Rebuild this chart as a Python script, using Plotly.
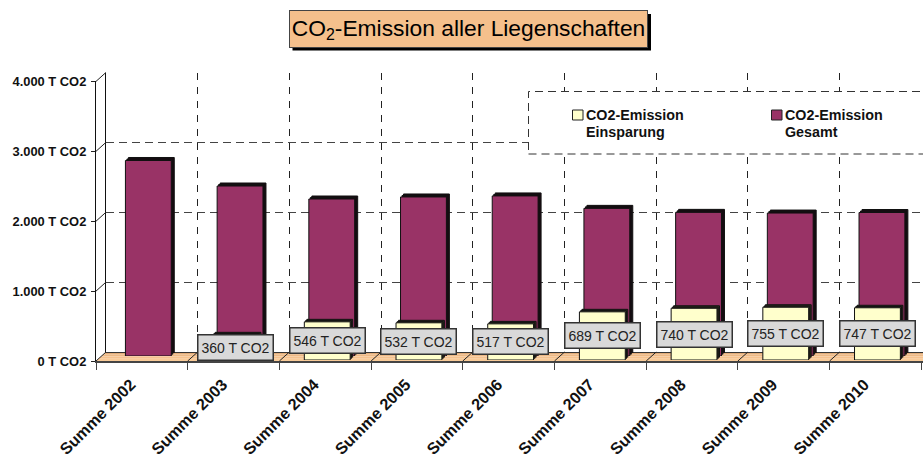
import plotly.graph_objects as go

categories = ["Summe 2002", "Summe 2003", "Summe 2004", "Summe 2005", "Summe 2006",
              "Summe 2007", "Summe 2008", "Summe 2009", "Summe 2010"]
gesamt = [2797, 2432, 2246, 2275, 2290, 2112, 2055, 2045, 2053]
einsparung = [None, 360, 546, 532, 517, 689, 740, 755, 747]
y_ticks = [0, 1000, 2000, 3000, 4000]
y_labels = ["0 T CO2", "1.000 T CO2", "2.000 T CO2", "3.000 T CO2", "4.000 T CO2"]
legend_e = ["CO2-Emission", "Einsparung"]
legend_g = ["CO2-Emission", "Gesamt"]
title = "CO<sub>2</sub>-Emission aller Liegenschaften"

W, H = 923, 457
X0, Y0 = 96.0, 361.0
CAT = 91.7
PX1000 = 69.9
FONT = "Liberation Sans, Arial, sans-serif"
PURPLE, YELLOW = "#993366", "#FFFFCC"


def px(x):
    return x / W


def py(y):
    return 1 - y / H


fig = go.Figure()


def plane(n, dx, dy, top=0.0, **xkw):
    """Axis pair whose origin is shifted by (dx, -dy) pixels from the front plane."""
    s = "" if n == 1 else str(n)
    left, bottom = X0 + dx, Y0 - dy
    xa = dict(domain=[px(left), 1], type="category", categoryorder="array", automargin=False,
              categoryarray=categories, range=[-0.5, -0.5 + (W - left) / CAT],
              anchor="y" + s, visible=False)
    ya = dict(domain=[py(bottom), py(top)], range=[0, (bottom - top) / PX1000 * 1000], automargin=False,
              anchor="x" + s, visible=False)
    xa.update(xkw.get("x", {}))
    ya.update(xkw.get("y", {}))
    fig.update_layout(**{"xaxis" + s: xa, "yaxis" + s: ya})
    return "x" + s, "y" + s


# back wall
xw, yw = plane(1, 10, 9, top=72.5,
               x=dict(visible=True, showgrid=True, gridcolor="#222", griddash="7px,7px", gridwidth=1,
                      tickson="boundaries", ticks="", showticklabels=False, showline=True,
                      linecolor="#333", linewidth=1),
               y=dict(visible=True, showgrid=True, gridcolor="#444", griddash="8px,5px", gridwidth=1,
                      tickvals=y_ticks, showticklabels=False, ticks="", showline=True,
                      linecolor="#111", linewidth=1.2, zeroline=False,
                      range=[0, 4000]))
fig.add_trace(go.Bar(x=categories, y=[None] * 9, xaxis=xw, yaxis=yw, showlegend=False, hoverinfo="skip"))

series = [
    (2, 9.5, 8, gesamt, "#1a0a12", "CO2-Emission Gesamt"),
    (3, 8, 6.5, gesamt, "#1a0a12", "CO2-Emission Gesamt"),
    (4, 6.5, 5, gesamt, PURPLE, "CO2-Emission Gesamt"),
    (5, 4.5, 3.5, einsparung, "#333322", "CO2-Emission Einsparung"),
    (6, 3.2, 2.2, einsparung, "#333322", "CO2-Emission Einsparung"),
    (7, 2, 1, einsparung, YELLOW, "CO2-Emission Einsparung"),
]
for n, dx, dy, vals, col, nm in series:
    xa, ya = plane(n, dx, dy)
    fig.add_trace(go.Bar(x=categories, y=vals, xaxis=xa, yaxis=ya, width=0.5, name=nm,
                         marker=dict(color=col, line=dict(color="#111", width=1)),
                         showlegend=False))

# front axes carry ticks and labels
plane(8, 0, 0, top=Y0 - 4 * PX1000,
      x=dict(visible=True, tickson="boundaries", ticks="outside", ticklen=7, tickcolor="#444", tickwidth=1,
             tickangle=-45, tickfont=dict(family=FONT, size=16.2, color="#111", weight="bold"), showline=True,
             linecolor="#444", linewidth=1.5, showgrid=False, ticklabelshift=-11, ticklabelstandoff=6),
      y=dict(visible=True, tickvals=y_ticks, ticktext=y_labels, ticks="outside", ticklen=4,
             tickcolor="#222", tickfont=dict(family=FONT, size=12.9, color="#111", weight="bold"), showline=True,
             linecolor="#111", linewidth=1.2, showgrid=False, zeroline=False, ticklabelstandoff=2,
             range=[0, 4000]))
fig.add_trace(go.Bar(x=categories, y=[None] * 9, xaxis="x8", yaxis="y8", showlegend=False, hoverinfo="skip"))

shapes = []


def path(points, **kw):
    d = "M" + "L".join(f"{px(a):.5f},{py(b):.5f}" for a, b in points) + "Z"
    shapes.append(dict(type="path", xref="paper", yref="paper", path=d, **kw))


def seg(a, b, c, d, color="#222", width=1, **kw):
    shapes.append(dict(type="line", xref="paper", yref="paper", x0=px(a), y0=py(b), x1=px(c), y1=py(d),
                       line=dict(color=color, width=width, **kw)))


# floor
strips = ["#E2AC78", "#EDB985", "#F5C28E", "#F9CB98"]
for i, c in enumerate(strips):
    t0, t1 = i / 4, (i + 1) / 4
    path([(106 - 10 * t0, 352 + 9 * t0), (W + 5, 352 + 9 * t0), (W + 5, 352 + 9 * t1), (106 - 10 * t1, 352 + 9 * t1)],
         fillcolor=c, line=dict(width=0), layer="below")
# depth connectors
for v in y_ticks:
    y = Y0 - v / 1000 * PX1000
    seg(X0, y, X0 + 10, y - 9)
for i in range(1, 9):
    x = X0 + i * CAT
    seg(x, Y0, x + 10, Y0 - 9)
# legend box
shapes.append(dict(type="rect", xref="paper", yref="paper", x0=px(528.5), x1=px(940), y0=py(154), y1=py(91.5),
                   fillcolor="white", line=dict(color="#333", width=1, dash="8px,5px"), layer="above"))
for x0, col in [(572.5, YELLOW), (771.5, PURPLE)]:
    shapes.append(dict(type="rect", xref="paper", yref="paper", x0=px(x0), x1=px(x0 + 10.5), y0=py(120), y1=py(110),
                       fillcolor=col, line=dict(color="#222", width=1), layer="above"))
# title shadow
shapes.append(dict(type="rect", xref="paper", yref="paper", x0=px(292.5), x1=px(651), y0=py(50.5), y1=py(14),
                   fillcolor="#000", line=dict(width=0), layer="above"))

ann = []
for c, v in zip(categories, einsparung):
    if v:
        ann.append(dict(x=c, y=v / 2, xref="x7", yref="y7", text=f"{v} T CO2", showarrow=False,
                        width=74, height=24, bgcolor="#D9D9D9", bordercolor="#333", borderwidth=1.5, borderpad=0,
                        font=dict(family=FONT, size=14, color="#222")))
for x, lines in [(584, legend_e), (783, legend_g)]:
    for line, y in zip(lines, (115, 132)):
        ann.append(dict(x=px(x), y=py(y), xref="paper", yref="paper", xanchor="left", yanchor="middle",
                        text=line, showarrow=False,
                        font=dict(family=FONT, size=14.3, color="#111", weight="bold")))
ann.append(dict(x=px(468.7), y=py(29.2), xref="paper", yref="paper", xanchor="center", yanchor="middle",
                text=title, showarrow=False,
                width=357, height=36, bgcolor="#F5C08C", bordercolor="#444", borderwidth=1, borderpad=0,
                font=dict(family=FONT, size=22.8, color="#000")))

fig.update_layout(template="none", width=W, height=H, margin=dict(l=0, r=0, t=0, b=0), paper_bgcolor="white",
                  plot_bgcolor="rgba(0,0,0,0)", barmode="overlay", showlegend=False,
                  shapes=shapes, annotations=ann)
fig.write_html("out.html", config=dict(displayModeBar=False),
               post_script="document.body.style.margin='0';document.body.style.overflow='hidden';")
